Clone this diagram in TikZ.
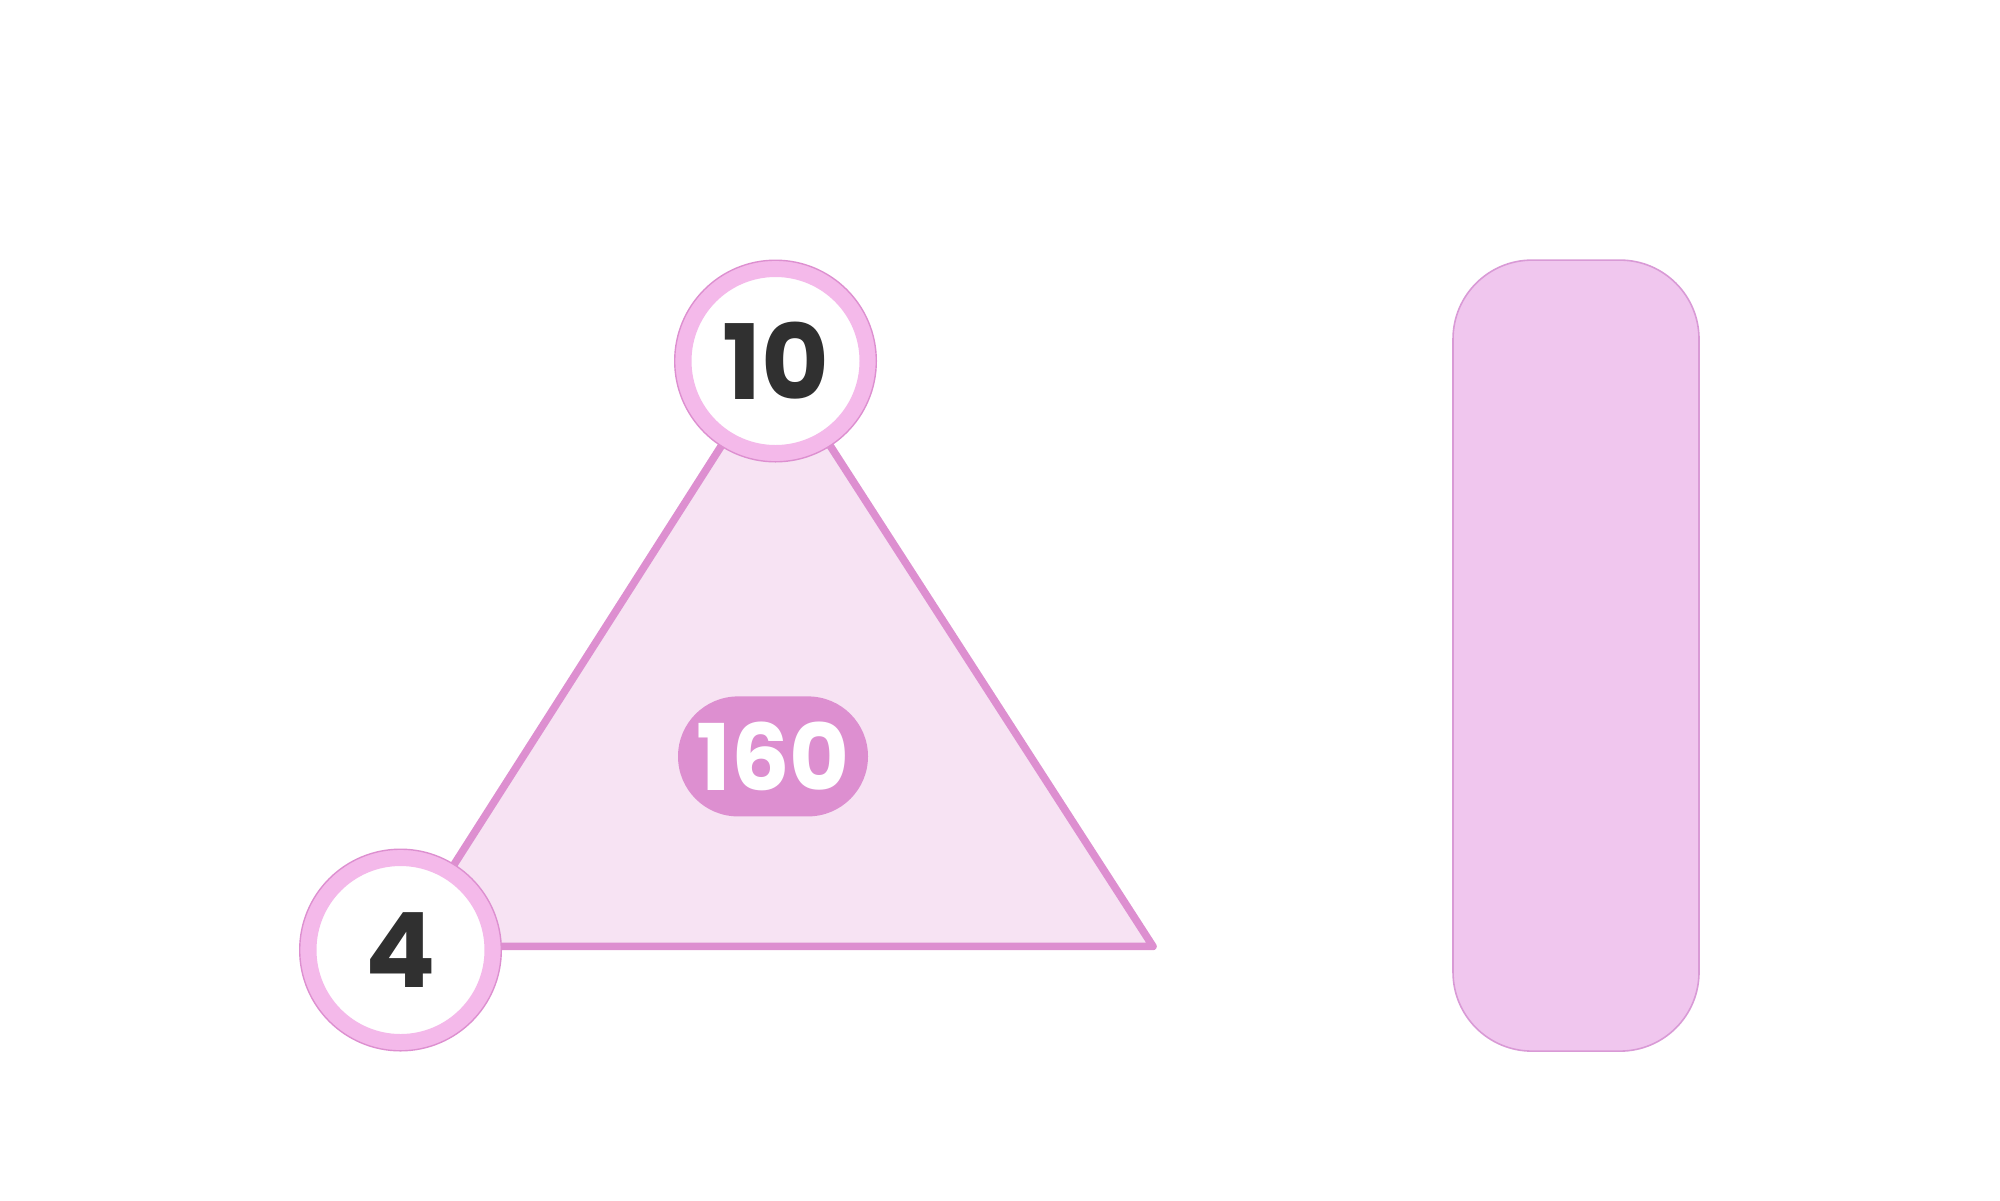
\documentclass[tikz,border=0pt]{standalone}
\usepackage{fontspec}
\usepackage{tikz}
\usetikzlibrary{backgrounds,shapes.misc}
\newfontfamily\numfont{Poppins}[UprightFont=* Bold]
\definecolor{ringpink}{HTML}{F4B9EA}
\definecolor{edgepink}{HTML}{DD8FD0}
\definecolor{facepink}{HTML}{F7E3F3}
\definecolor{barpink}{HTML}{F0C6EE}
\definecolor{barline}{HTML}{D99AD6}
\definecolor{numgray}{HTML}{303030}
\tikzset{
  vertex/.style={circle, fill=white, draw=ringpink, line width=8.25pt,
    minimum size=92.25pt, inner sep=0pt, text=numgray,
    font=\numfont\fontsize{52}{52}\selectfont},
  rim/.style={draw=edgepink, line width=0.7pt},
  face/.style={fill=facepink, draw=edgepink, line width=3.8pt, line join=round},
  total/.style={rounded rectangle, fill=edgepink, text=white, inner sep=0pt,
    minimum width=95pt, minimum height=60pt,
    font=\numfont\fontsize{46}{46}\selectfont},
  bar/.style={rectangle, rounded corners=39.5pt, fill=barpink, draw=barline,
    line width=0.8pt, minimum width=123pt, minimum height=395.5pt}
}
\begin{document}
\begin{tikzpicture}[x=0.5pt,y=-0.5pt]
  \useasboundingbox (0,0) rectangle (2000,1200);
  % corners of the triangle
  \node[vertex] (apex) at (775.5,361) {10};
  \node[vertex] (base) at (400.5,950) {4};
  \coordinate (right) at (1153,946.4);
  \coordinate (baseleft) at (401.8,946.4);
  \draw[rim] (apex) circle (50.4pt);
  \draw[rim] (base) circle (50.4pt);
  \begin{scope}[on background layer]
    \filldraw[face] (apex.center) -- (baseleft) -- (right) -- cycle;
  \end{scope}
  \node[total] (area) at (773,756.4) {160};
  % bar on the right
  \node[bar] (column) at (1576,655.6) {};
\end{tikzpicture}
\end{document}
